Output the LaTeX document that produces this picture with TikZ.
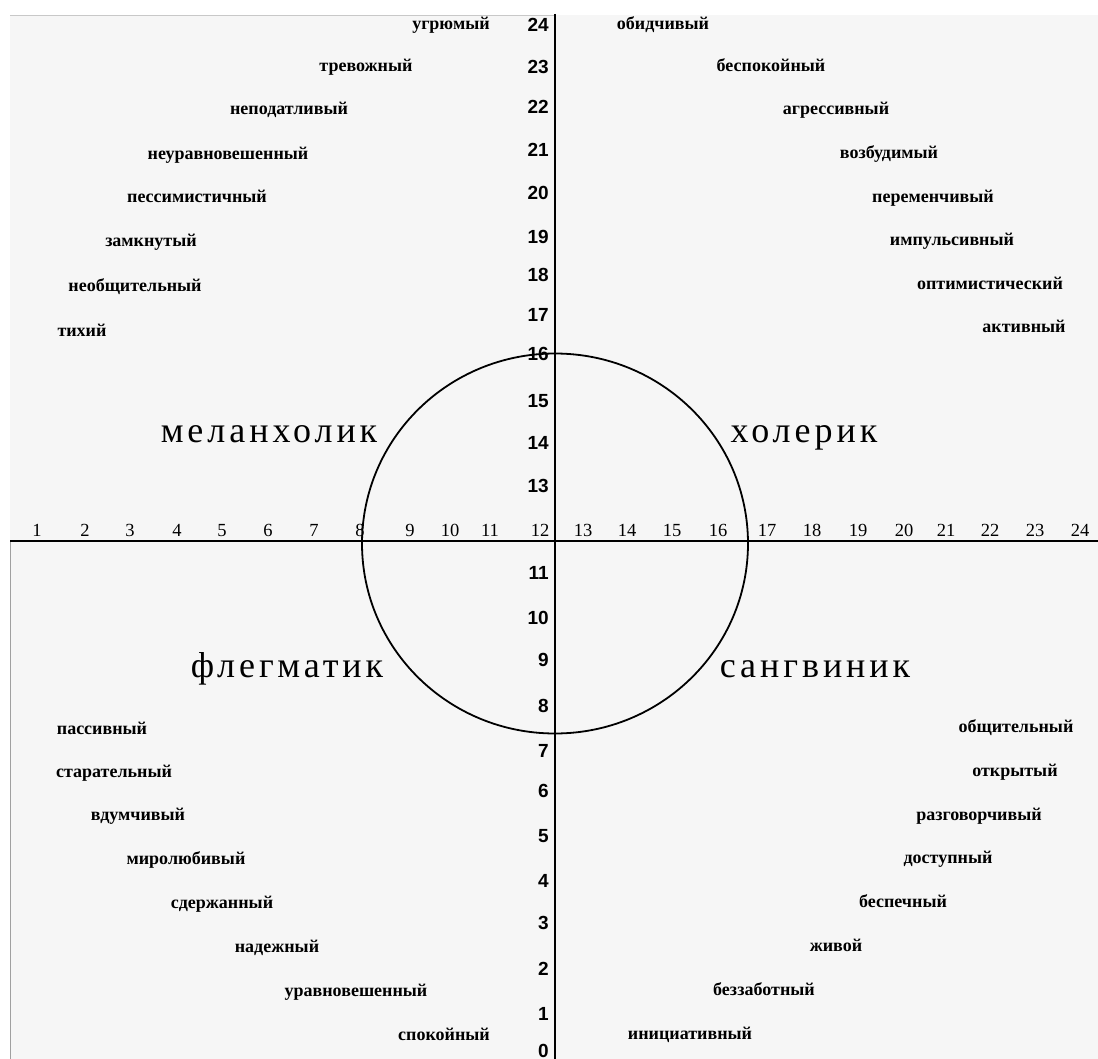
\documentclass[tikz,border=0pt]{standalone}
\usepackage{fontspec}
\setmainfont{Liberation Serif}
\newfontfamily\numfont{Liberation Sans}
\newfontfamily\typefont[LetterSpace=11]{Liberation Serif}
\definecolor{paper}{HTML}{F6F6F6}
\definecolor{edge}{HTML}{C8C8C8}
\tikzset{
  word/.style={font=\bfseries\fontsize{18}{18}\selectfont, inner sep=0pt, anchor=base},
  vnum/.style={font=\numfont\bfseries\fontsize{19}{19}\selectfont, inner sep=0pt, anchor=base east},
  hnum/.style={font=\fontsize{18.5}{18.5}\selectfont, inner sep=0pt, anchor=base},
  tname/.style={font=\typefont\fontsize{36}{36}\selectfont, inner sep=0pt, anchor=base},
  axis/.style={line width=1.9pt},
}
\begin{document}
\begin{tikzpicture}[x=1pt,y=-1pt]
\useasboundingbox (0,0) rectangle (1098,1059);
\fill[white] (0,0) rectangle (1098,1059);
\fill[paper] (10,15) rectangle (1098,1059);
\draw[edge, line width=0.8pt] (10,15) -- (555,15);
\draw[edge!80!black, line width=0.8pt] (10,541) -- (10,1059);

% axes and circle
\coordinate (L) at (10,541);
\coordinate (R) at (1098,541);
\coordinate (T) at (555,14);
\coordinate (B) at (555,1059);
\coordinate (O) at (555,543.5);
\draw[axis] (L) -- (R);
\draw[axis] (T) -- (B);
\draw[line width=1.8pt] (O) ellipse [x radius=193, y radius=190];

% vertical scale (baselines)
\foreach \n/\yy in {24/25,23/67,22/107,21/150,20/193,19/237,18/275,17/315,16/353,15/400,14/442,13/485,11/572,10/617,9/659,8/705,7/750,6/790,5/835,4/880,3/922,2/968,1/1013,0/1050}
  \node[vnum] (v\n) at (549,\yy+7) {\n};

% horizontal scale
\foreach \n/\xx in {1/37,2/85,3/130,4/177,5/222,6/268,7/314,8/360,9/410,10/450,11/490,12/540,13/583,14/627,15/672,16/718,17/767,18/812,19/858,20/904,21/946,22/990,23/1035,24/1080}
  \node[hnum] (h\n) at (\xx,536) {\n};

% type names
\node[tname] (mel) at (269,442) {меланхолик};
\node[tname] (hol) at (804,442) {холерик};
\node[tname] (fle) at (287,677) {флегматик};
\node[tname] (san) at (815,677) {сангвиник};

% top-left words
\node[word] (w1) at (451,30) {угрюмый};
\node[word] (w2) at (366,72) {тревожный};
\node[word] (w3) at (289,115) {неподатливый};
\node[word] (w4) at (228,160) {неуравновешенный};
\node[word] (w5) at (197,203) {пессимистичный};
\node[word] (w6) at (151,247) {замкнутый};
\node[word] (w7) at (135,292) {необщительный};
\node[word] (w8) at (82,337) {тихий};

% top-right words
\node[word] (c1) at (663,30) {обидчивый};
\node[word] (c2) at (771,72) {беспокойный};
\node[word] (c3) at (836,115) {агрессивный};
\node[word] (c4) at (889,159) {возбудимый};
\node[word] (c5) at (933,203) {переменчивый};
\node[word] (c6) at (952,246) {импульсивный};
\node[word] (c7) at (990,290) {оптимистический};
\node[word] (c8) at (1024,333) {активный};

% bottom-left words
\node[word] (f1) at (102,734) {пассивный};
\node[word] (f2) at (114,777) {старательный};
\node[word] (f3) at (138,820) {вдумчивый};
\node[word] (f4) at (186,864) {миролюбивый};
\node[word] (f5) at (222,908) {сдержанный};
\node[word] (f6) at (277,952) {надежный};
\node[word] (f7) at (356,996) {уравновешенный};
\node[word] (f8) at (444,1040) {спокойный};

% bottom-right words
\node[word] (s1) at (1016,732) {общительный};
\node[word] (s2) at (1015,776) {открытый};
\node[word] (s3) at (979,820) {разговорчивый};
\node[word] (s4) at (948,863) {доступный};
\node[word] (s5) at (903,907) {беспечный};
\node[word] (s6) at (836,951) {живой};
\node[word] (s7) at (764,995) {беззаботный};
\node[word] (s8) at (690,1039) {инициативный};
\end{tikzpicture}
\end{document}
